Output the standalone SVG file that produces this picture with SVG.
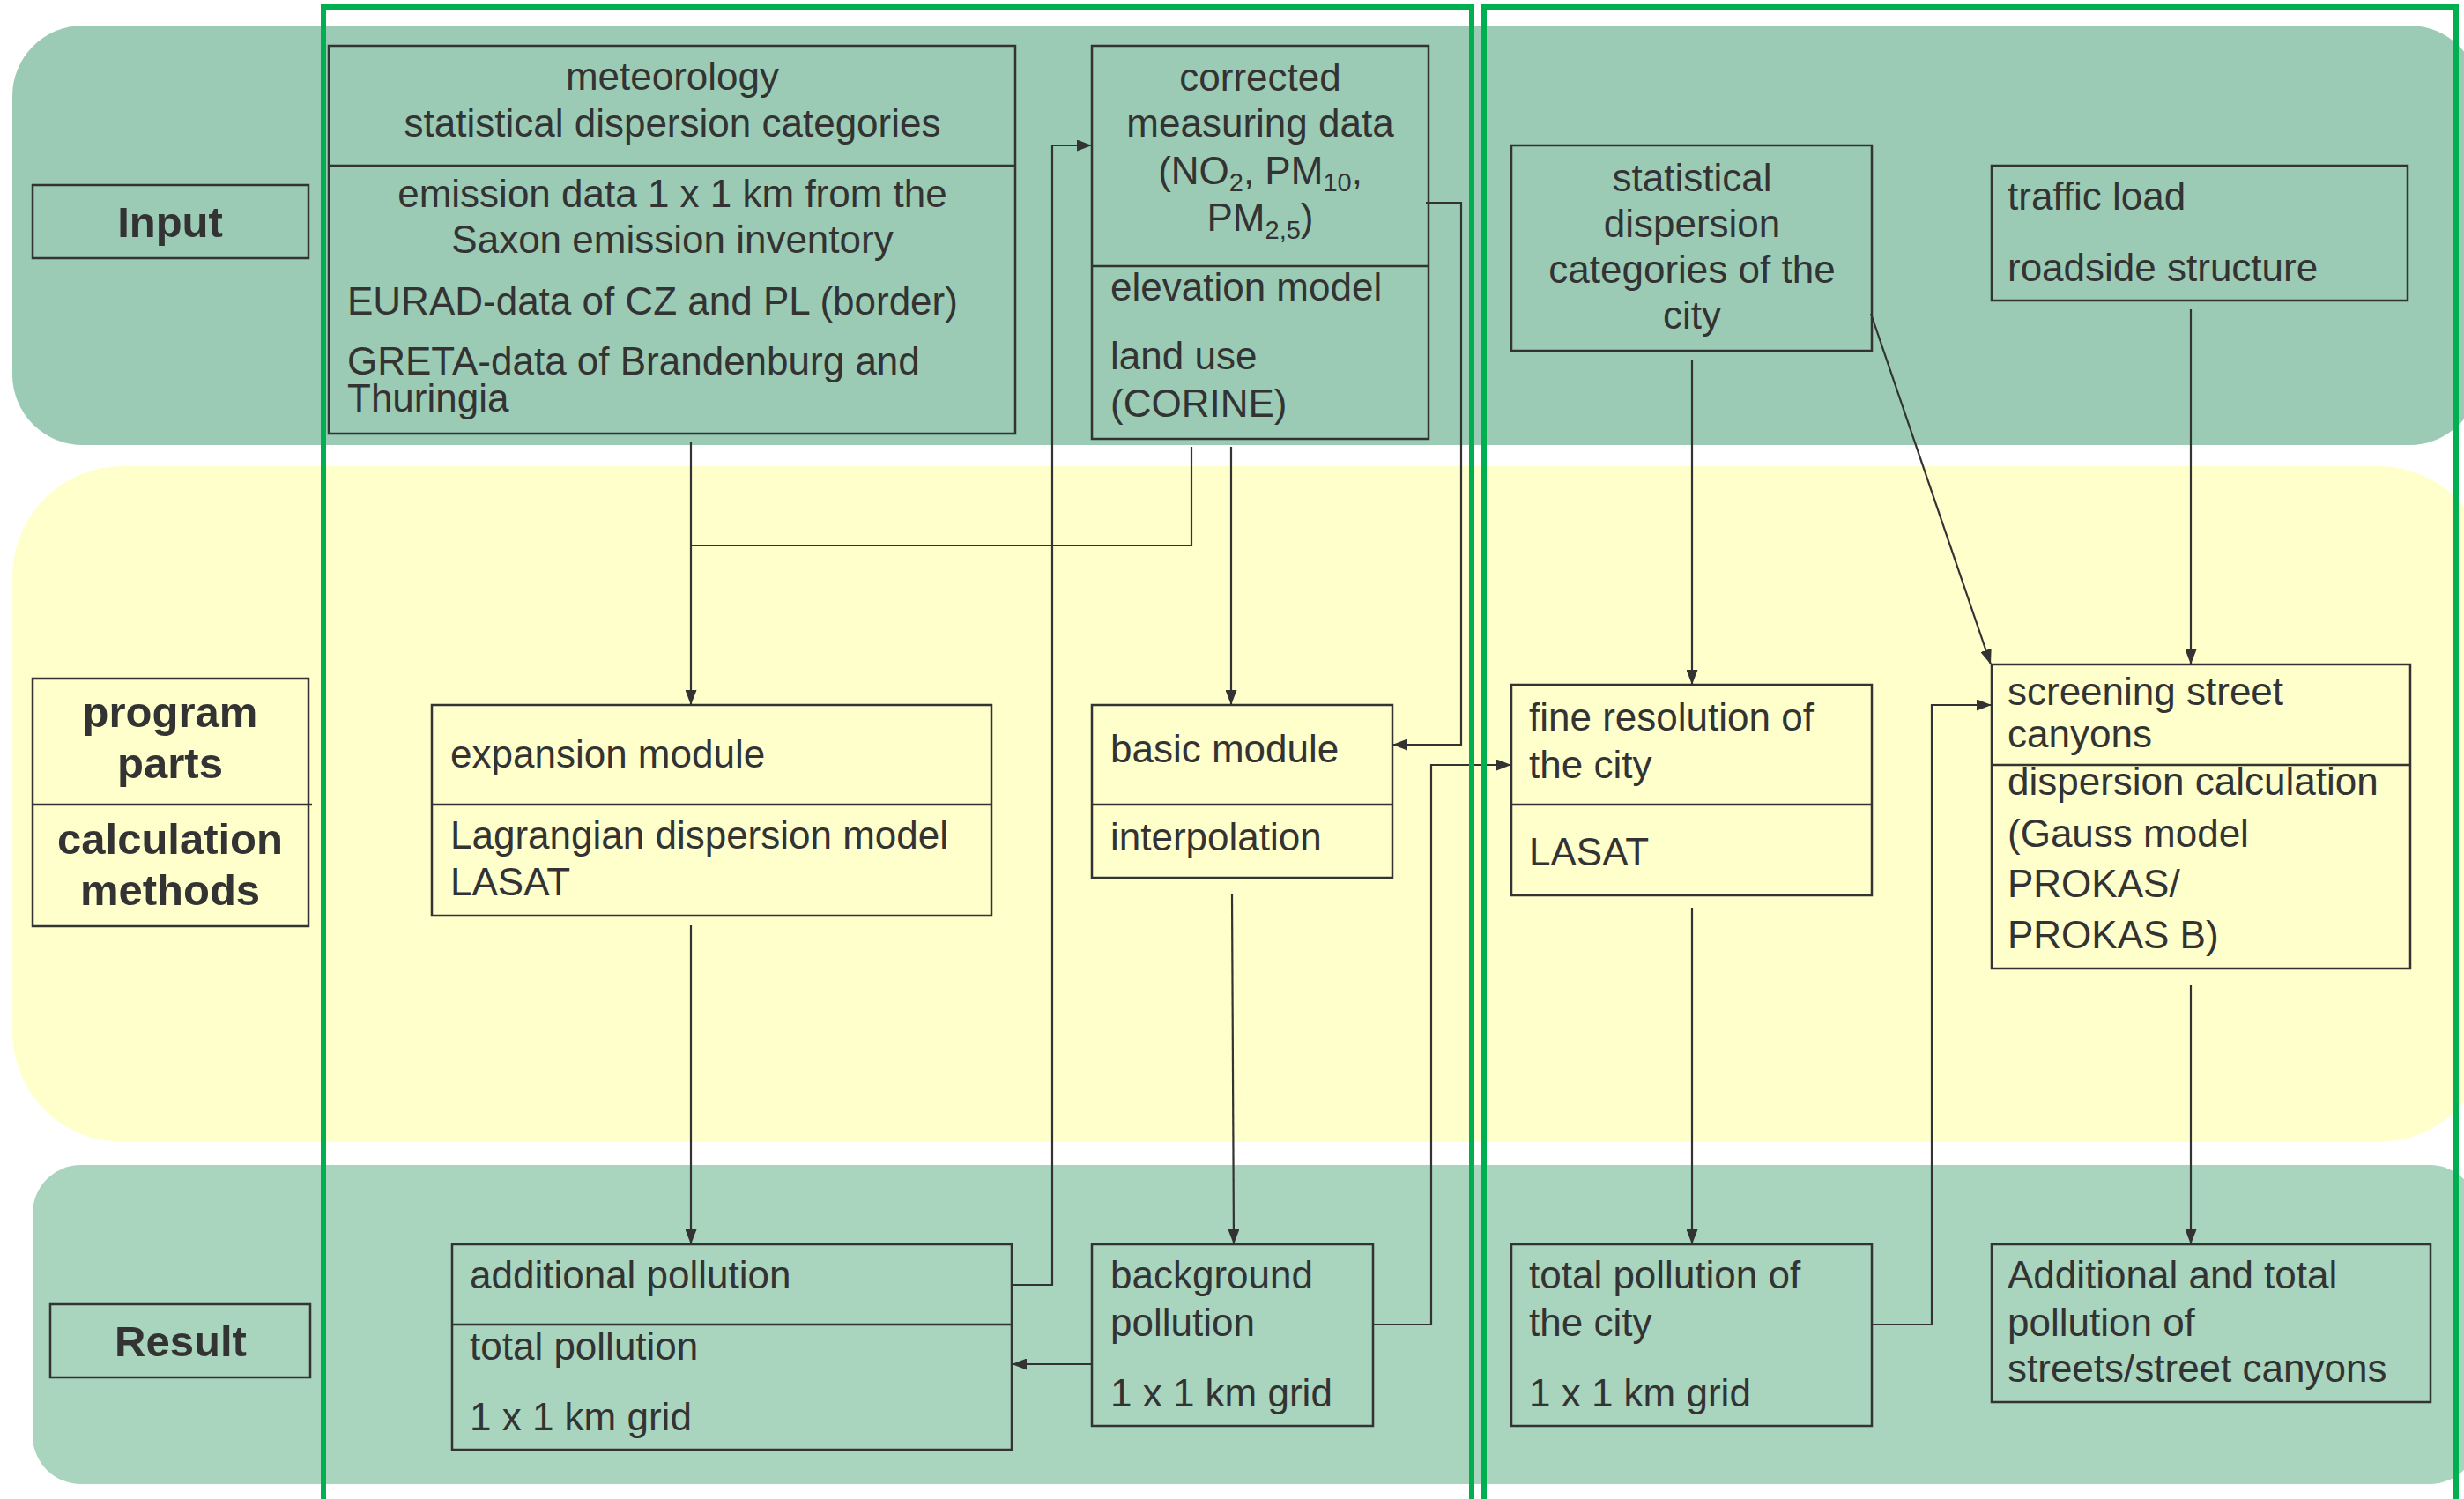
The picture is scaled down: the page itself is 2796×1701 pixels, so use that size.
<svg xmlns="http://www.w3.org/2000/svg" width="2796" height="1701" viewBox="0 0 2796 1701">
<defs>
<style>
.bg{stroke:none}
.box{fill:none;stroke:#333;stroke-width:2.5}
.div{stroke:#333;stroke-width:2.5}
.t{font-family:"Liberation Sans",Arial,sans-serif;font-size:44px;fill:#333}
.c{text-anchor:middle}
.lb{font-family:"Liberation Sans",Arial,sans-serif;font-size:49px;font-weight:bold;fill:#333;text-anchor:middle}
.sub{font-size:29px}
.frame{fill:none;stroke:#00B050;stroke-width:6}
.con{fill:none;stroke:#333;stroke-width:2.2}
.arr{marker-end:url(#ah)}
</style>
<marker id="ah" markerWidth="17" markerHeight="13" refX="17" refY="6.5" orient="auto" markerUnits="userSpaceOnUse">
<path d="M0,0 L17,6.5 L0,13 Z" fill="#333"/>
</marker>
</defs>
<rect width="2796" height="1701" fill="#fff"/>
<g id="bands">
<rect class="bg" x="14" y="29" width="2800" height="476" rx="80" ry="80" fill="#9BCBB5"/>
<rect class="bg" x="14" y="529" width="2810" height="767" rx="125" ry="125" fill="#FFFFCC"/>
<rect class="bg" x="37" y="1322" width="2775" height="362" rx="55" ry="55" fill="#A9D4BE"/>
</g>
<g id="label-input">
<rect class="box" x="37" y="210" width="313" height="83"/>
<text class="lb" x="193" y="269">Input</text>
</g>
<g id="label-program">
<rect class="box" x="37" y="770" width="313" height="281"/>
<line class="div" x1="37" y1="913" x2="354" y2="913"/>
<text class="lb" x="193" y="825">program</text>
<text class="lb" x="193" y="883">parts</text>
<text class="lb" x="193" y="969">calculation</text>
<text class="lb" x="193" y="1027">methods</text>
</g>
<g id="label-result">
<rect class="box" x="57" y="1480" width="295" height="83"/>
<text class="lb" x="205" y="1539">Result</text>
</g>
<g id="node-met">
<rect class="box" x="373" y="52" width="779" height="440"/>
<line class="div" x1="373" y1="188" x2="1152" y2="188"/>
<text class="t c" x="763" y="102">meteorology</text>
<text class="t c" x="763" y="155">statistical dispersion categories</text>
<text class="t c" x="763" y="235">emission data 1 x 1 km from the</text>
<text class="t c" x="763" y="287">Saxon emission inventory</text>
<text class="t" x="394" y="357">EURAD-data of CZ and PL (border)</text>
<text class="t" x="394" y="425">GRETA-data of Brandenburg and</text>
<text class="t" x="394" y="467">Thuringia</text>
</g>
<g id="node-measuring">
<rect class="box" x="1239" y="52" width="382" height="446"/>
<line class="div" x1="1239" y1="302" x2="1621" y2="302"/>
<text class="t c" x="1430" y="103">corrected</text>
<text class="t c" x="1430" y="155">measuring data</text>
<text class="t c" x="1430" y="209">(NO<tspan class="sub" dy="8">2</tspan><tspan dy="-8">, PM</tspan><tspan class="sub" dy="8">10</tspan><tspan dy="-8">,</tspan></text>
<text class="t c" x="1430" y="262">PM<tspan class="sub" dy="9">2,5</tspan><tspan dy="-9">)</tspan></text>
<text class="t" x="1260" y="341">elevation model</text>
<text class="t" x="1260" y="419">land use</text>
<text class="t" x="1260" y="473">(CORINE)</text>
</g>
<g id="node-stat-city">
<rect class="box" x="1715" y="165" width="409" height="233"/>
<text class="t c" x="1920" y="217">statistical</text>
<text class="t c" x="1920" y="269">dispersion</text>
<text class="t c" x="1920" y="321">categories of the</text>
<text class="t c" x="1920" y="373">city</text>
</g>
<g id="node-traffic">
<rect class="box" x="2260" y="188" width="472" height="153"/>
<text class="t" x="2278" y="238">traffic load</text>
<text class="t" x="2278" y="319">roadside structure</text>
</g>
<g id="node-expansion">
<rect class="box" x="490" y="800" width="635" height="239"/>
<line class="div" x1="490" y1="913" x2="1125" y2="913"/>
<text class="t" x="511" y="871">expansion module</text>
<text class="t" x="511" y="963">Lagrangian dispersion model</text>
<text class="t" x="511" y="1016">LASAT</text>
</g>
<g id="node-basic">
<rect class="box" x="1239" y="800" width="341" height="196"/>
<line class="div" x1="1239" y1="913" x2="1580" y2="913"/>
<text class="t" x="1260" y="865">basic module</text>
<text class="t" x="1260" y="965">interpolation</text>
</g>
<g id="node-fine">
<rect class="box" x="1715" y="777" width="409" height="239"/>
<line class="div" x1="1715" y1="913" x2="2124" y2="913"/>
<text class="t" x="1735" y="829">fine resolution of</text>
<text class="t" x="1735" y="883">the city</text>
<text class="t" x="1735" y="982">LASAT</text>
</g>
<g id="node-screening">
<rect class="box" x="2260" y="754" width="475" height="345"/>
<line class="div" x1="2260" y1="868" x2="2735" y2="868"/>
<text class="t" x="2278" y="800">screening street</text>
<text class="t" x="2278" y="848">canyons</text>
<text class="t" x="2278" y="902">dispersion calculation</text>
<text class="t" x="2278" y="961">(Gauss model</text>
<text class="t" x="2278" y="1018">PROKAS/</text>
<text class="t" x="2278" y="1076">PROKAS B)</text>
</g>
<g id="node-additional">
<rect class="box" x="513" y="1412" width="635" height="233"/>
<line class="div" x1="513" y1="1503" x2="1148" y2="1503"/>
<text class="t" x="533" y="1462">additional pollution</text>
<text class="t" x="533" y="1543">total pollution</text>
<text class="t" x="533" y="1623">1 x 1 km grid</text>
</g>
<g id="node-background">
<rect class="box" x="1239" y="1412" width="319" height="206"/>
<text class="t" x="1260" y="1462">background</text>
<text class="t" x="1260" y="1516">pollution</text>
<text class="t" x="1260" y="1596">1 x 1 km grid</text>
</g>
<g id="node-total-city">
<rect class="box" x="1715" y="1412" width="409" height="206"/>
<text class="t" x="1735" y="1462">total pollution of</text>
<text class="t" x="1735" y="1516">the city</text>
<text class="t" x="1735" y="1596">1 x 1 km grid</text>
</g>
<g id="node-streets">
<rect class="box" x="2260" y="1412" width="498" height="179"/>
<text class="t" x="2278" y="1462">Additional and total</text>
<text class="t" x="2278" y="1516">pollution of</text>
<text class="t" x="2278" y="1568">streets/street canyons</text>
</g>
<g id="connectors">
<path class="con arr" d="M784 502 V800"/>
<path class="con" d="M1352 507 V619 H784"/>
<path class="con arr" d="M1397 507 V800"/>
<path class="con arr" d="M1618 230 H1658 V845 H1580"/>
<path class="con arr" d="M784 1050 V1412"/>
<path class="con arr" d="M1148 1458 H1194 V165 H1239"/>
<path class="con arr" d="M1398 1015 L1400 1412"/>
<path class="con arr" d="M1558 1503 H1624 V868 H1715"/>
<path class="con arr" d="M1239 1548 H1148"/>
<path class="con arr" d="M1920 408 V777"/>
<path class="con arr" d="M2123 356 L2259 754"/>
<path class="con arr" d="M2486 351 V754"/>
<path class="con arr" d="M1920 1030 V1412"/>
<path class="con arr" d="M2486 1118 V1412"/>
<path class="con arr" d="M2124 1503 H2192 V800 H2260"/>
</g>
<g id="frames">
<rect class="frame" x="367" y="8" width="1303" height="1760"/>
<rect class="frame" x="1684" y="8" width="1103" height="1760"/>
</g>
</svg>
